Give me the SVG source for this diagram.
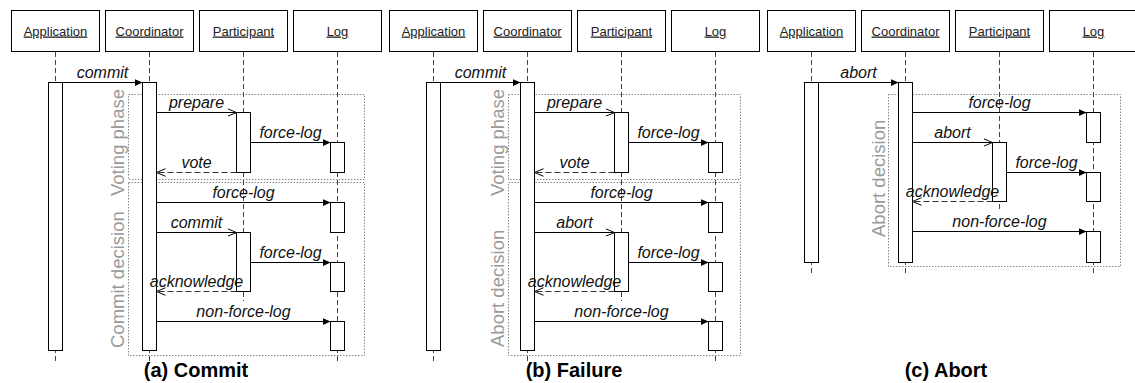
<svg xmlns="http://www.w3.org/2000/svg" width="1135" height="383" viewBox="0 0 1135 383">
<style>
.bg{fill:#fff}
.hdr{fill:#fff;stroke:#000;stroke-width:1}
.hdt{font-family:"Liberation Sans",Arial,sans-serif;font-size:13px;text-decoration:underline;text-anchor:middle;fill:#222}
.life{stroke:#444;stroke-width:1;stroke-dasharray:5 3;fill:none}
.bar{fill:#fff;stroke:#000;stroke-width:1}
.frame{fill:none;stroke:#888;stroke-width:1;stroke-dasharray:1.5 1.5}
.msg{stroke:#000;stroke-width:1;fill:none;marker-end:url(#fa)}
.call{stroke:#000;stroke-width:1;fill:none;marker-end:url(#oa)}
.ret{stroke:#333;stroke-width:1;fill:none;stroke-dasharray:6 3;marker-end:url(#oa)}
.lbl{font-family:"Liberation Sans",Arial,sans-serif;font-size:16px;font-style:italic;text-anchor:middle;fill:#111}
.phase{font-family:"Liberation Sans",Arial,sans-serif;font-size:18.5px;fill:#999}
.cap{font-family:"Liberation Sans",Arial,sans-serif;font-size:20px;font-weight:bold;text-anchor:middle;fill:#000}
</style>
<defs>
<marker id="fa" viewBox="0 0 10 10" refX="10" refY="5" markerWidth="8" markerHeight="8" markerUnits="userSpaceOnUse" orient="auto"><path d="M0,0.5 L10,5 L0,9.5 z" fill="#000"/></marker>
<marker id="oa" viewBox="0 0 10 10" refX="10" refY="5" markerWidth="9" markerHeight="9" markerUnits="userSpaceOnUse" orient="auto"><path d="M0,0.8 L10,5 L0,9.2" fill="none" stroke="#000" stroke-width="1.1"/></marker>
</defs>
<rect class="bg" x="0" y="0" width="1135" height="383"/>

<!-- Panel (a) Commit -->
<g id="panel-a">
  <g id="a-frames">
    <rect class="frame" x="128.5" y="94.5" width="236" height="85"/>
    <rect class="frame" x="128.5" y="182.5" width="236" height="173"/>
    <text class="phase" transform="translate(123.5,196) rotate(-90)">Voting phase</text>
    <text class="phase" transform="translate(123.5,348) rotate(-90)">Commit decision</text>
  </g>
  <g id="a-application">
    <rect class="hdr" x="11.5" y="10.5" width="88" height="41"/>
    <text class="hdt" x="55.5" y="35.5">Application</text>
    <line class="life" x1="55.5" y1="52" x2="55.5" y2="362"/>
    <rect class="bar" x="48.5" y="82.5" width="14" height="268"/>
  </g>
  <g id="a-coordinator">
    <rect class="hdr" x="105.5" y="10.5" width="88" height="41"/>
    <text class="hdt" x="149.5" y="35.5">Coordinator</text>
    <line class="life" x1="149.5" y1="52" x2="149.5" y2="362"/>
    <rect class="bar" x="142.5" y="82.5" width="14" height="268"/>
  </g>
  <g id="a-participant">
    <rect class="hdr" x="199.5" y="10.5" width="88" height="41"/>
    <text class="hdt" x="243.5" y="35.5">Participant</text>
    <line class="life" x1="243.5" y1="52" x2="243.5" y2="301"/>
    <rect class="bar" x="236.5" y="112.5" width="14" height="60"/>
    <rect class="bar" x="236.5" y="232.5" width="14" height="59"/>
  </g>
  <g id="a-log">
    <rect class="hdr" x="293.5" y="10.5" width="88" height="41"/>
    <text class="hdt" x="337.5" y="35.5">Log</text>
    <line class="life" x1="337.5" y1="52" x2="337.5" y2="362"/>
    <rect class="bar" x="330.5" y="142.5" width="14" height="30"/>
    <rect class="bar" x="330.5" y="202.5" width="14" height="30"/>
    <rect class="bar" x="330.5" y="262.5" width="14" height="29"/>
    <rect class="bar" x="330.5" y="321.5" width="14" height="29"/>
  </g>
  <g id="a-connectors">
    <line class="msg" x1="62.5" y1="82.5" x2="142.5" y2="82.5"/>
    <text class="lbl" x="102.5" y="78">commit</text>
    <line class="call" x1="156.5" y1="112.5" x2="236.5" y2="112.5"/>
    <text class="lbl" x="196.5" y="108">prepare</text>
    <line class="msg" x1="250.5" y1="142.5" x2="330.5" y2="142.5"/>
    <text class="lbl" x="290.5" y="138">force-log</text>
    <line class="ret" x1="236.5" y1="172.5" x2="156.5" y2="172.5"/>
    <text class="lbl" x="196.5" y="168">vote</text>
    <line class="msg" x1="156.5" y1="202.5" x2="330.5" y2="202.5"/>
    <text class="lbl" x="243.5" y="198">force-log</text>
    <line class="call" x1="156.5" y1="232.5" x2="236.5" y2="232.5"/>
    <text class="lbl" x="196.5" y="228">commit</text>
    <line class="msg" x1="250.5" y1="262.5" x2="330.5" y2="262.5"/>
    <text class="lbl" x="290.5" y="258">force-log</text>
    <line class="ret" x1="236.5" y1="291.5" x2="156.5" y2="291.5"/>
    <text class="lbl" x="196.5" y="287">acknowledge</text>
    <line class="msg" x1="156.5" y1="321.5" x2="330.5" y2="321.5"/>
    <text class="lbl" x="243.5" y="317">non-force-log</text>
  </g>
</g>

<!-- Panel (b) Failure -->
<g id="panel-b" transform="translate(378,0)">
  <g id="b-frames">
    <rect class="frame" x="130.5" y="94.5" width="232" height="85"/>
    <rect class="frame" x="130.5" y="182.5" width="232" height="173"/>
    <text class="phase" transform="translate(126,196) rotate(-90)">Voting phase</text>
    <text class="phase" transform="translate(126,347) rotate(-90)">Abort decision</text>
  </g>
  <g id="b-application">
    <rect class="hdr" x="11.5" y="10.5" width="88" height="41"/>
    <text class="hdt" x="55.5" y="35.5">Application</text>
    <line class="life" x1="55.5" y1="52" x2="55.5" y2="362"/>
    <rect class="bar" x="48.5" y="82.5" width="14" height="268"/>
  </g>
  <g id="b-coordinator">
    <rect class="hdr" x="105.5" y="10.5" width="88" height="41"/>
    <text class="hdt" x="149.5" y="35.5">Coordinator</text>
    <line class="life" x1="149.5" y1="52" x2="149.5" y2="362"/>
    <rect class="bar" x="142.5" y="82.5" width="14" height="268"/>
  </g>
  <g id="b-participant">
    <rect class="hdr" x="199.5" y="10.5" width="88" height="41"/>
    <text class="hdt" x="243.5" y="35.5">Participant</text>
    <line class="life" x1="243.5" y1="52" x2="243.5" y2="301"/>
    <rect class="bar" x="236.5" y="112.5" width="14" height="60"/>
    <rect class="bar" x="236.5" y="232.5" width="14" height="59"/>
  </g>
  <g id="b-log">
    <rect class="hdr" x="293.5" y="10.5" width="88" height="41"/>
    <text class="hdt" x="337.5" y="35.5">Log</text>
    <line class="life" x1="337.5" y1="52" x2="337.5" y2="362"/>
    <rect class="bar" x="330.5" y="142.5" width="14" height="30"/>
    <rect class="bar" x="330.5" y="202.5" width="14" height="30"/>
    <rect class="bar" x="330.5" y="262.5" width="14" height="29"/>
    <rect class="bar" x="330.5" y="321.5" width="14" height="29"/>
  </g>
  <g id="b-connectors">
    <line class="msg" x1="62.5" y1="82.5" x2="142.5" y2="82.5"/>
    <text class="lbl" x="102.5" y="78">commit</text>
    <line class="call" x1="156.5" y1="112.5" x2="236.5" y2="112.5"/>
    <text class="lbl" x="196.5" y="108">prepare</text>
    <line class="msg" x1="250.5" y1="142.5" x2="330.5" y2="142.5"/>
    <text class="lbl" x="290.5" y="138">force-log</text>
    <line class="ret" x1="236.5" y1="172.5" x2="156.5" y2="172.5"/>
    <text class="lbl" x="196.5" y="168">vote</text>
    <line class="msg" x1="156.5" y1="202.5" x2="330.5" y2="202.5"/>
    <text class="lbl" x="243.5" y="198">force-log</text>
    <line class="call" x1="156.5" y1="232.5" x2="236.5" y2="232.5"/>
    <text class="lbl" x="196.5" y="228">abort</text>
    <line class="msg" x1="250.5" y1="262.5" x2="330.5" y2="262.5"/>
    <text class="lbl" x="290.5" y="258">force-log</text>
    <line class="ret" x1="236.5" y1="291.5" x2="156.5" y2="291.5"/>
    <text class="lbl" x="196.5" y="287">acknowledge</text>
    <line class="msg" x1="156.5" y1="321.5" x2="330.5" y2="321.5"/>
    <text class="lbl" x="243.5" y="317">non-force-log</text>
  </g>
</g>

<!-- Panel (c) Abort -->
<g id="panel-c" transform="translate(756,0)">
  <g id="c-frames">
    <rect class="frame" x="132.5" y="94.5" width="232" height="172"/>
    <text class="phase" transform="translate(128.5,237) rotate(-90)">Abort decision</text>
  </g>
  <g id="c-application">
    <rect class="hdr" x="11.5" y="10.5" width="88" height="41"/>
    <text class="hdt" x="55.5" y="35.5">Application</text>
    <line class="life" x1="55.5" y1="52" x2="55.5" y2="273"/>
    <rect class="bar" x="48.5" y="82.5" width="14" height="180"/>
  </g>
  <g id="c-coordinator">
    <rect class="hdr" x="105.5" y="10.5" width="88" height="41"/>
    <text class="hdt" x="149.5" y="35.5">Coordinator</text>
    <line class="life" x1="149.5" y1="52" x2="149.5" y2="273"/>
    <rect class="bar" x="142.5" y="82.5" width="14" height="180"/>
  </g>
  <g id="c-participant">
    <rect class="hdr" x="199.5" y="10.5" width="88" height="41"/>
    <text class="hdt" x="243.5" y="35.5">Participant</text>
    <line class="life" x1="243.5" y1="52" x2="243.5" y2="211"/>
    <rect class="bar" x="236.5" y="142.5" width="14" height="59"/>
  </g>
  <g id="c-log">
    <rect class="hdr" x="293.5" y="10.5" width="88" height="41"/>
    <text class="hdt" x="337.5" y="35.5">Log</text>
    <line class="life" x1="337.5" y1="52" x2="337.5" y2="273"/>
    <rect class="bar" x="330.5" y="112.5" width="14" height="30"/>
    <rect class="bar" x="330.5" y="172.5" width="14" height="29"/>
    <rect class="bar" x="330.5" y="231.5" width="14" height="31"/>
  </g>
  <g id="c-connectors">
    <line class="msg" x1="62.5" y1="82.5" x2="142.5" y2="82.5"/>
    <text class="lbl" x="102.5" y="78">abort</text>
    <line class="msg" x1="156.5" y1="112.5" x2="330.5" y2="112.5"/>
    <text class="lbl" x="243.5" y="108">force-log</text>
    <line class="call" x1="156.5" y1="142.5" x2="236.5" y2="142.5"/>
    <text class="lbl" x="196.5" y="138">abort</text>
    <line class="msg" x1="250.5" y1="172.5" x2="330.5" y2="172.5"/>
    <text class="lbl" x="290.5" y="168">force-log</text>
    <line class="ret" x1="236.5" y1="201.5" x2="156.5" y2="201.5"/>
    <text class="lbl" x="196.5" y="197">acknowledge</text>
    <line class="msg" x1="156.5" y1="231.5" x2="330.5" y2="231.5"/>
    <text class="lbl" x="243.5" y="227">non-force-log</text>
  </g>
</g>

<g id="captions">
  <text class="cap" x="196" y="377">(a) Commit</text>
  <text class="cap" x="574" y="377">(b) Failure</text>
  <text class="cap" x="946" y="377">(c) Abort</text>
</g>
</svg>
